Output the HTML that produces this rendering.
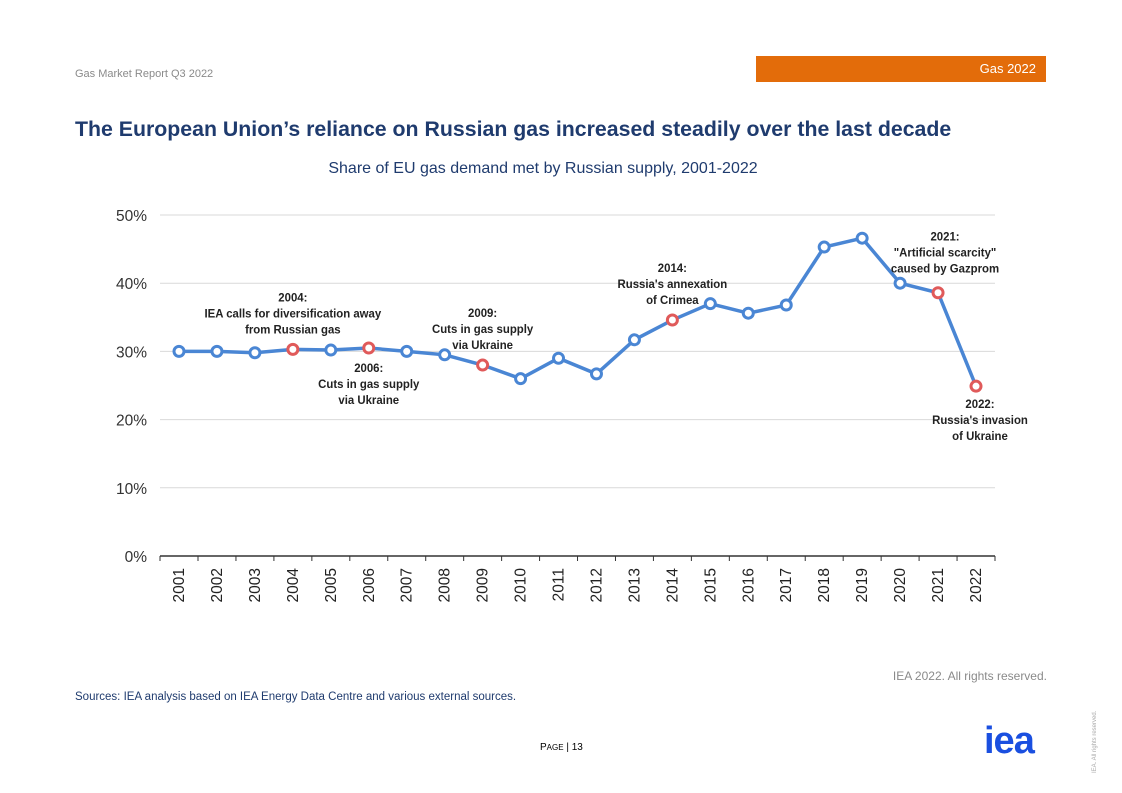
<!DOCTYPE html>
<html><head><meta charset="utf-8"><style>
body{margin:0;width:1122px;height:793px;background:#fff;position:relative;font-family:"Liberation Sans",sans-serif;overflow:hidden}
.a{position:absolute}
</style></head><body>
<div class="a" style="left:75px;top:68px;font-size:11px;color:#8a8a8a">Gas Market Report Q3 2022</div>
<div class="a" style="left:756px;top:56px;width:290px;height:26px;background:#e36c0a"><span style="position:absolute;right:10px;top:5px;color:#fff;font-size:13px">Gas 2022</span></div>
<div class="a" style="left:75px;top:117px;font-size:21.3px;font-weight:bold;color:#1f3b6e">The European Union’s reliance on Russian gas increased steadily over the last decade</div>
<div class="a" style="left:0;width:1086px;text-align:center;top:160px;font-size:16px;color:#1f3b6e">Share of EU gas demand met by Russian supply, 2001-2022</div>
<svg class="a" style="left:0;top:0" width="1122" height="793" id="chart"></svg>
<div class="a" style="right:75px;top:669px;font-size:12px;color:#8a8a8a">IEA 2022. All rights reserved.</div>
<div class="a" style="left:75px;top:691px;font-size:11.5px;color:#1f3b6e">Sources: IEA analysis based on IEA Energy Data Centre and various external sources.</div>
<div class="a" style="left:540px;top:742px;font-size:10px;color:#000">P<span style="font-size:8px">AGE</span> | 13</div>
<div class="a" style="left:984px;top:720px;font-size:38px;font-weight:bold;color:#1a4fe0;letter-spacing:-1px">iea</div>
<div class="a" style="left:1060px;top:735px;font-size:6px;color:#aaa;transform:rotate(-90deg);width:70px">IEA. All rights reserved.</div>
<script>
const years=["2001","2002","2003","2004","2005","2006","2007","2008","2009","2010","2011","2012","2013","2014","2015","2016","2017","2018","2019","2020","2021","2022"];
const shares=[30.0,30.0,29.8,30.3,30.2,30.5,30.0,29.5,28.0,26.0,29.0,26.7,31.7,34.6,37.0,35.6,36.8,45.3,46.6,40.0,38.6,24.9];
const highlighted=["2004","2006","2009","2014","2021","2022"];
const yTicks=[0,10,20,30,40,50];
const notes=[
 {year:"2004",lines:["2004:","IEA calls for diversification away","from Russian gas"],dy:-48},
 {year:"2006",lines:["2006:","Cuts in gas supply","via Ukraine"],dy:24},
 {year:"2009",lines:["2009:","Cuts in gas supply","via Ukraine"],dy:-48},
 {year:"2014",lines:["2014:","Russia's annexation","of Crimea"],dy:-48},
 {year:"2021",lines:["2021:","\"Artificial scarcity\"","caused by Gazprom"],dy:-52,dx:7},
 {year:"2022",lines:["2022:","Russia's invasion","of Ukraine"],dy:22,dx:4}
];
const svg=document.getElementById('chart');const NS="http://www.w3.org/2000/svg";
const x0=179,x1=976,yb=556,yt=215,left=160,right=995;
const X=i=>x0+(x1-x0)*i/(years.length-1);
const Y=v=>yb-(yb-yt)*v/50;
function mk(t,a){const e=document.createElementNS(NS,t);for(const k in a)e.setAttribute(k,a[k]);svg.appendChild(e);return e;}
yTicks.forEach(v=>{
 const g=mk('line',{x1:left,x2:right,y1:Y(v),y2:Y(v),stroke:v?'#d9d9d9':'#333','stroke-width':v?1:1.5});
 
 
 const t=mk('text',{x:147,y:Y(v)+6,'text-anchor':'end','font-size':15.5,fill:'#333'});t.textContent=v+'%';
 
 
});
years.forEach((y,i)=>{
 const tk=mk('line',{x1:X(i)+19,x2:X(i)+19,y1:yb,y2:yb+5,stroke:'#333'});
 
 
 const t=mk('text',{x:0,y:0,'font-size':15.5,fill:'#222','text-anchor':'end',transform:`translate(${X(i)+5},${yb+12}) rotate(-90)`});t.textContent=y;
 
 
});
const t0=mk('line',{x1:left,x2:left,y1:yb,y2:yb+5,stroke:'#333'});


const pl=mk('polyline',{points:shares.map((v,i)=>X(i)+','+Y(v)).join(' '),fill:'none',stroke:'#4a86d4','stroke-width':3.5});


shares.forEach((v,i)=>{
 const red=highlighted.includes(years[i]);
 const c=mk('circle',{cx:X(i),cy:Y(v),r:5,fill:'#fff',stroke:red?'#e05a5a':'#4a86d4','stroke-width':3});
 
 
});
notes.forEach(n=>{
 const i=years.indexOf(n.year);const cx=X(i)+(n.dx||0),cy=Y(shares[i])+n.dy;
 n.lines.forEach((l,k)=>{
  const t=mk('text',{x:cx,y:cy+k*16,'text-anchor':'middle','font-size':12,'font-weight':'bold',fill:'#222',textLength:'',});
  t.removeAttribute('textLength');
  t.setAttribute('transform',`translate(${cx},0) scale(0.95,1) translate(${-cx},0)`);
  t.textContent=l;
  
  
 });
});
</script>
</body></html>
